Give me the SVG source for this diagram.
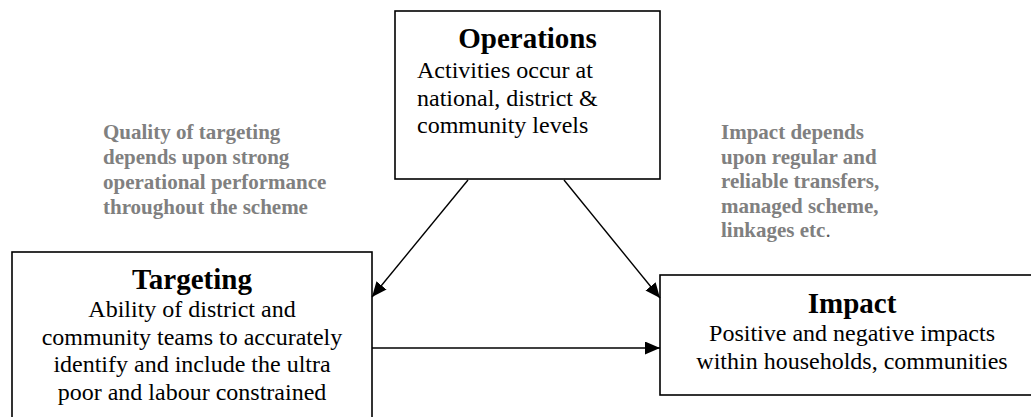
<svg xmlns="http://www.w3.org/2000/svg" width="1031" height="417" viewBox="0 0 1031 417">
<style>
.box{fill:#fff;stroke:#000;stroke-width:1.6}
.title{font-family:"Liberation Serif",serif;font-weight:bold;font-size:29px;fill:#000}
.body{font-family:"Liberation Serif",serif;font-size:24px;fill:#000}
.note{font-family:"Liberation Serif",serif;font-weight:bold;font-size:21px;fill:#808080}
.conn{stroke:#000;stroke-width:1.4;fill:none}
</style>
<defs>
<marker id="arr" markerUnits="userSpaceOnUse" markerWidth="16" markerHeight="14" refX="15" refY="6.5" orient="auto">
<path d="M0,0 L15,6.5 L0,13 z" fill="#000"/>
</marker>
</defs>
<rect width="1031" height="417" fill="#fff"/>
<g id="operations">
<rect class="box" x="395" y="11" width="265" height="168"/>
<text class="title" x="527.5" y="48" text-anchor="middle">Operations</text>
<text class="body" x="417" y="78">Activities occur at</text>
<text class="body" x="417" y="105.5">national, district &amp;</text>
<text class="body" x="417" y="133">community levels</text>
</g>
<g id="targeting">
<rect class="box" x="12" y="252" width="360" height="180"/>
<text class="title" x="192" y="289" text-anchor="middle">Targeting</text>
<text class="body" x="192" y="317" text-anchor="middle">Ability of district and</text>
<text class="body" x="192" y="344.5" text-anchor="middle">community teams to accurately</text>
<text class="body" x="192" y="372" text-anchor="middle">identify and include the ultra</text>
<text class="body" x="192" y="399.5" text-anchor="middle">poor and labour constrained</text>
</g>
<g id="impact">
<rect class="box" x="660" y="275" width="400" height="120"/>
<text class="title" x="852" y="313" text-anchor="middle">Impact</text>
<text class="body" x="852" y="341" text-anchor="middle">Positive and negative impacts</text>
<text class="body" x="852" y="368.5" text-anchor="middle">within households, communities</text>
</g>
<g id="note-targeting">
<text class="note" x="103" y="139">Quality of targeting</text>
<text class="note" x="103" y="164">depends upon strong</text>
<text class="note" x="103" y="189">operational performance</text>
<text class="note" x="103" y="214">throughout the scheme</text>
</g>
<g id="note-impact">
<text class="note" x="721" y="139">Impact depends</text>
<text class="note" x="721" y="163.5">upon regular and</text>
<text class="note" x="721" y="188">reliable transfers,</text>
<text class="note" x="721" y="212.5">managed scheme,</text>
<text class="note" x="721" y="237">linkages etc<tspan font-weight="normal" fill="#555">.</tspan></text>
</g>
<g id="connectors">
<line class="conn" x1="468" y1="180" x2="372" y2="297" marker-end="url(#arr)"/>
<line class="conn" x1="564" y1="180" x2="660" y2="298" marker-end="url(#arr)"/>
<line class="conn" x1="372" y1="348" x2="660" y2="348" marker-end="url(#arr)"/>
</g>
</svg>
